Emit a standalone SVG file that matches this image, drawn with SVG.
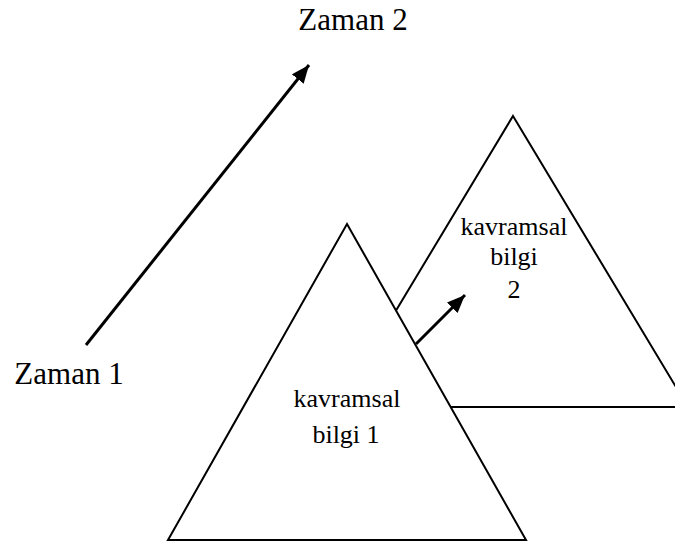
<svg xmlns="http://www.w3.org/2000/svg" width="675" height="543" viewBox="0 0 675 543">
<style>
.tri{fill:#fff;stroke:#000;stroke-width:2;stroke-linejoin:miter}
.arr{stroke:#000;stroke-width:3;fill:none}
.lbl{font-family:"Liberation Serif","Times New Roman",serif;fill:#000;text-anchor:middle}
.big{font-size:31px}
.mid{font-size:26px}
</style>
<defs>
<marker id="ah" markerWidth="6" markerHeight="5" refX="6" refY="2.5" orient="auto" markerUnits="strokeWidth">
<path d="M0,0 L6,2.5 L0,5 z" fill="#000"/>
</marker>
</defs>
<rect width="675" height="543" fill="#fff"/>
<g id="tri2">
<polygon class="tri" points="513,116 688,407 338,407"/>
<text class="lbl mid" x="514" y="235">kavramsal</text>
<text class="lbl mid" x="514" y="265">bilgi</text>
<text class="lbl mid" x="514" y="298">2</text>
</g>
<g id="tri1">
<polygon class="tri" points="347,224 526,540 168,540"/>
<text class="lbl mid" x="347" y="407">kavramsal</text>
<text class="lbl mid" x="346" y="443">bilgi 1</text>
</g>
<g id="zaman1"><text class="lbl big" x="69" y="384">Zaman 1</text></g>
<g id="zaman2"><text class="lbl big" x="353" y="30">Zaman 2</text></g>
<g id="connectors">
<line class="arr" x1="86" y1="345" x2="309" y2="65" marker-end="url(#ah)"/>
<line class="arr" x1="416" y1="344" x2="465" y2="295" marker-end="url(#ah)"/>
</g>
</svg>
